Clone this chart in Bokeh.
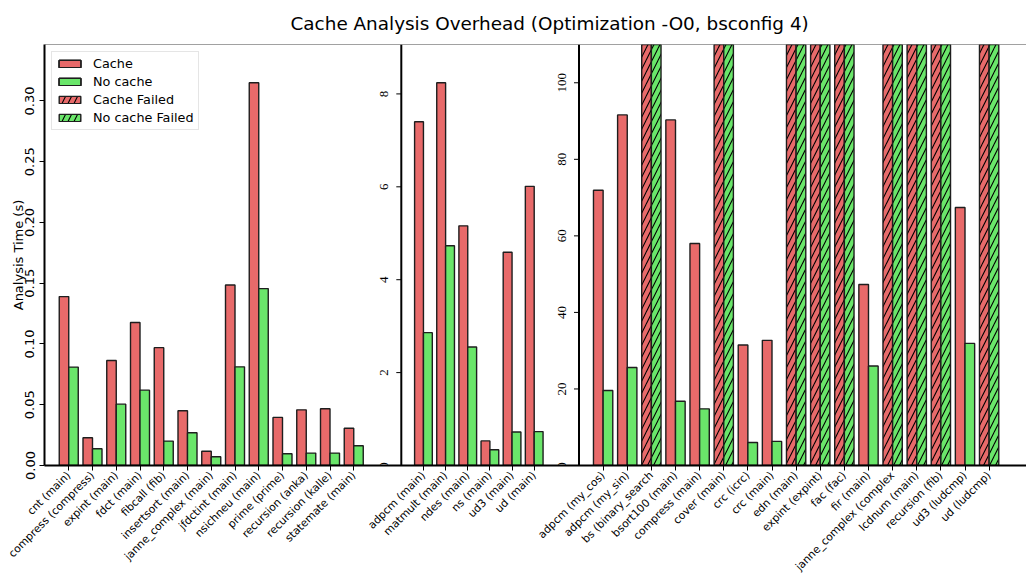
import math
from bokeh.plotting import figure
from bokeh.models import (Range1d, FixedTicker, PrintfTickFormatter, Span,
                          ColumnDataSource, LabelSet)
from bokeh.embed import file_html
from bokeh.resources import INLINE

# ---------------- data ----------------
p1_labels = ["cnt (main)", "compress (compress)", "expint (main)", "fdct (main)", "fibcall (fib)",
             "insertsort (main)", "janne_complex (main)", "jfdctint (main)", "nsichneu (main)",
             "prime (prime)", "recursion (anka)", "recursion (kalle)", "statemate (main)"]
p1_cache = [0.139, 0.0228, 0.0864, 0.1177, 0.097, 0.045, 0.0117, 0.1486, 0.315,
            0.0396, 0.0458, 0.0467, 0.0306]
p1_nocache = [0.081, 0.0138, 0.0505, 0.062, 0.0201, 0.027, 0.0072, 0.0812, 0.1456,
              0.0097, 0.0102, 0.0102, 0.0163]

p2_labels = ["adpcm (main)", "matmult (main)", "ndes (main)", "ns (main)", "ud3 (main)", "ud (main)"]
p2_cache = [7.40, 8.24, 5.16, 0.53, 4.59, 6.01]
p2_nocache = [2.86, 4.73, 2.55, 0.34, 0.72, 0.73]

p3_labels = ["adpcm (my_cos)", "adpcm (my_sin)", "bs (binary_search", "bsort100 (main)",
             "compress (main)", "cover (main)", "crc (icrc)", "crc (main)", "edn (main)",
             "expint (expint)", "fac (fac)", "fir (main)", "janne_complex (complex",
             "lcdnum (main)", "recursion (fib)", "ud3 (ludcmp)", "ud (ludcmp)"]
# None = analysis failed
p3_cache = [71.9, 91.6, None, 90.3, 58.0, None, 31.5, 32.7, None, None, None, 47.3,
            None, None, None, 67.4, None]
p3_nocache = [19.6, 25.6, None, 16.8, 14.8, None, 6.0, 6.3, None, None, None, 26.0,
              None, None, None, 31.9, None]

y1_ticks = [0.0, 0.05, 0.10, 0.15, 0.20, 0.25, 0.30]
y2_ticks = [0, 2, 4, 6, 8]
y3_ticks = [0, 20, 40, 60, 80, 100]
y3_max = 110

# ---------------- style / layout ----------------
FONT = "DejaVu Sans"
RED = "#e86a6a"
GREEN = "#6ae66a"
EDGE = "#1e1e1e"
FRAME_W = 982
FRAME_H = 421
panel_left = [0.5, 356.8, 534.5]   # px from frame left where index -1 sits
unit_px = [23.75, 22.15, 24.125]   # px per category

y1_max = max(p1_cache) * 1.1
y2_max = max(p2_cache) * 1.1

p = figure(frame_width=FRAME_W, frame_height=FRAME_H,
           x_range=Range1d(0, FRAME_W), y_range=Range1d(0, y1_max),
           output_backend="svg", toolbar_location=None,
           min_border_left=44, min_border_right=0, min_border_top=43, min_border_bottom=0,
           background_fill_color="white", border_fill_color="white")
p.outline_line_color = None
p.xgrid.visible = False
p.ygrid.visible = False

names = ["p1", "p2", "p3"]
for k, nm in enumerate(names):
    start = -1 - panel_left[k] / unit_px[k]
    p.extra_x_ranges[nm] = Range1d(start, start + FRAME_W / unit_px[k])
p.extra_y_ranges["p2"] = Range1d(0, y2_max)
p.extra_y_ranges["p3"] = Range1d(0, y3_max)
yr = ["default", "p2", "p3"]
ymaxs = [y1_max, y2_max, y3_max]

panels = [(p1_labels, p1_cache, p1_nocache),
          (p2_labels, p2_cache, p2_nocache),
          (p3_labels, p3_cache, p3_nocache)]

BW = 0.4
for k, (labs, cache, nocache) in enumerate(panels):
    for series, off, color, lab in [(cache, -BW / 2, RED, "Cache"),
                                    (nocache, BW / 2, GREEN, "No cache")]:
        ok_x = [i + off for i, v in enumerate(series) if v is not None]
        ok_v = [v for v in series if v is not None]
        p.vbar(x=ok_x, top=ok_v, bottom=0, width=BW, fill_color=color,
               line_color=EDGE, line_width=1.4, x_range_name=names[k],
               y_range_name=yr[k], legend_label=lab)
    for series, off, color, lab in [(cache, -BW / 2, RED, "Cache Failed"),
                                    (nocache, BW / 2, GREEN, "No cache Failed")]:
        f_x = [i + off for i, v in enumerate(series) if v is None]
        if not f_x:
            continue
        p.vbar(x=f_x, top=[ymaxs[k]] * len(f_x), bottom=0, width=BW, fill_color=color,
               line_color=EDGE, line_width=1.4, hatch_pattern="/", hatch_color="black",
               hatch_weight=1.1, hatch_scale=12, x_range_name=names[k],
               y_range_name=yr[k], legend_label=lab)

# ---------------- bottom axis (all categories) ----------------
tick_px = []
all_labels = []
for k, (labs, _, _) in enumerate(panels):
    for i, lab in enumerate(labs):
        tick_px.append(round(panel_left[k] + (i + 1) * unit_px[k], 2))
        all_labels.append(lab)
xa = p.xaxis[0]
xa.ticker = FixedTicker(ticks=tick_px)
xa.major_label_overrides = {t: l for t, l in zip(tick_px, all_labels)}
xa.major_label_orientation = math.pi / 4
xa.major_label_text_font = FONT
xa.major_label_text_font_size = "10.8px"
xa.major_label_text_color = "black"
xa.major_label_standoff = 3
xa.axis_line_width = 2
xa.axis_line_color = "black"
xa.major_tick_out = 5
xa.major_tick_in = 0
xa.major_tick_line_color = "black"
xa.minor_tick_line_color = None

# ---------------- left axis (panel 1) ----------------
ya = p.yaxis[0]
ya.ticker = FixedTicker(ticks=y1_ticks)
ya.formatter = PrintfTickFormatter(format="%.2f")
ya.major_label_orientation = "vertical"
ya.major_label_text_font = FONT
ya.major_label_text_font_size = "13px"
ya.major_label_text_color = "black"
ya.major_label_standoff = 5
ya.axis_line_width = 2
ya.axis_line_color = "black"
ya.major_tick_out = 5
ya.major_tick_in = 0
ya.minor_tick_line_color = None
ya.axis_label = "Analysis Time (s)"
ya.axis_label_text_font = FONT
ya.axis_label_text_font_size = "13px"
ya.axis_label_text_font_style = "normal"
ya.axis_label_text_color = "black"
ya.axis_label_standoff = -3

# ---------------- inner axes (panels 2 & 3) ----------------
for k, ticks in [(1, y2_ticks), (2, y3_ticks)]:
    p.add_layout(Span(location=-1, dimension="height", x_range_name=names[k],
                      line_color="black", line_width=2))
    p.ray(x=[-1] * len(ticks), y=ticks, length=5, length_units="screen", angle=math.pi,
          line_color="black", line_width=1, x_range_name=names[k], y_range_name=yr[k])
    src = ColumnDataSource(dict(x=[-1] * len(ticks), y=ticks, t=[str(t) for t in ticks]))
    p.add_layout(LabelSet(x="x", y="y", text="t", source=src, angle=math.pi / 2,
                          x_offset=-13, text_align="center", text_baseline="bottom",
                          text_font=FONT, text_font_size="13px", text_color="black",
                          x_range_name=names[k], y_range_name=yr[k]))

# top spine
p.add_layout(Span(location=y1_max, dimension="width", line_color="#444444", line_width=1))

# ---------------- title ----------------
p.title.text = "Cache Analysis Overhead (Optimization -O0, bsconfig 4)"
p.title.align = "left"
p.title.offset = 246
p.title.text_font = FONT
p.title.text_font_size = "18.4px"
p.title.text_font_style = "normal"
p.title.text_color = "black"
p.title.standoff = 21

# ---------------- legend ----------------
lg = p.legend[0]
lg.location = "top_left"
lg.margin = 7
lg.padding = 4
lg.spacing = 3
lg.glyph_width = 27
lg.glyph_height = 9
lg.label_height = 15
lg.label_standoff = 10
lg.label_text_font = FONT
lg.label_text_font_size = "12.8px"
lg.label_text_color = "black"
lg.border_line_color = "#cccccc"
lg.border_line_width = 1
lg.background_fill_alpha = 0.85

open("out.html", "w").write(file_html(p, INLINE))
